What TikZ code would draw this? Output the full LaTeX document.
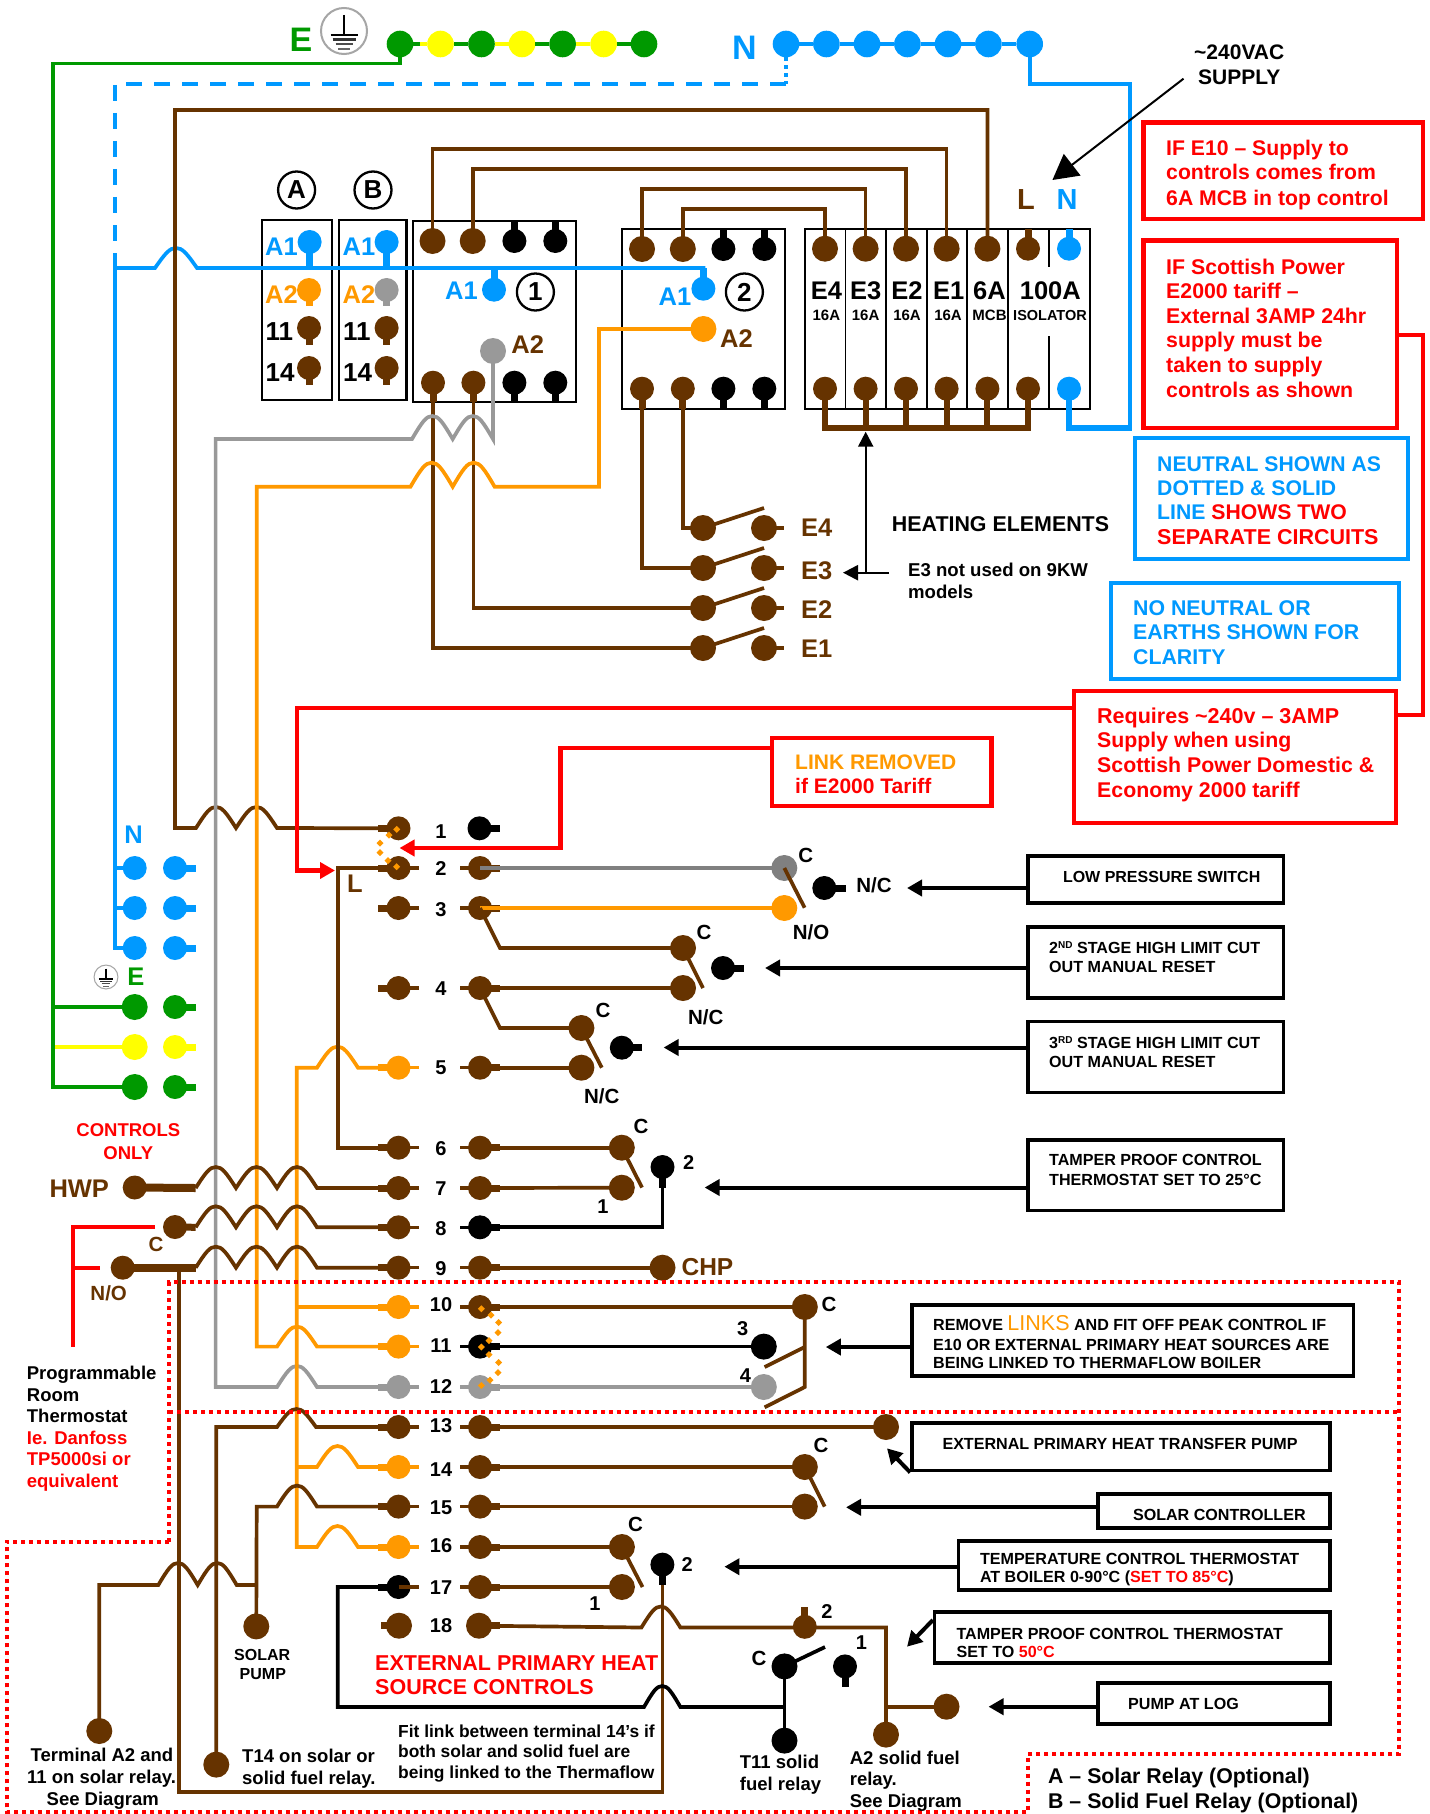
\documentclass[tikz,border=0pt]{standalone}
\usepackage{fontspec}
\setmainfont{Liberation Sans}
\usetikzlibrary{arrows.meta,calc}
\definecolor{brn}{HTML}{663300}
\definecolor{blu}{HTML}{0099FF}
\definecolor{org}{HTML}{FF9900}
\definecolor{grn}{HTML}{009900}
\definecolor{ylw}{HTML}{FFFF00}
\definecolor{gry}{HTML}{999999}
\definecolor{gr2}{HTML}{808080}
\definecolor{rd}{HTML}{FF0000}
\definecolor{blk}{HTML}{000000}
\tikzset{
 wire/.style={line width=3.7pt,draw=#1,line join=miter},
 tdot/.style={circle,inner sep=0pt,outer sep=0pt,draw=none},
 bxn/.style={rectangle,inner sep=0pt,fill=none},
 arr/.style={draw=black,line width=4pt,-{Triangle[length=15pt,width=16pt]}},
 thinarr/.style={draw=black,line width=2.2pt,-{Triangle[length=15pt,width=15pt]}},
 redarr/.style={draw=rd,line width=4.5pt,line join=miter,-{Triangle[length=15pt,width=16pt]}},
 rdots/.style={draw=rd,line width=4pt,dash pattern=on 4pt off 4pt},
 cir/.style={circle,draw=black,line width=2.3pt,minimum size=37pt,inner sep=0pt},
 hmp/.style={to path={let \p1=(\tikztostart),\p2=(\tikztotarget),\n1={\x2-\x1} in
   .. controls ({\x1+.25*\n1},{\y1+.75*#1pt}) and ({\x1+.35*\n1},{\y1+#1pt}) .. ({\x1+.5*\n1},{\y1+#1pt})
   .. controls ({\x1+.65*\n1},{\y1+#1pt}) and ({\x1+.75*\n1},{\y1+.75*#1pt}) .. (\tikztotarget)}}
}
\newcounter{lb}
\newcommand\lab[5]{\stepcounter{lb}\node[anchor=base west,inner sep=0pt,text=#2] (lb\thelb) at (#3,#4) {\fontsize{#1}{#1}\selectfont\bfseries #5};}
\newcommand\labc[5]{\stepcounter{lb}\node[anchor=base,inner sep=0pt,text=#2] (lb\thelb) at (#3,{#4+.36*#1}) {\fontsize{#1}{#1}\selectfont\bfseries #5};}
\newcommand\dt[5]{\node[tdot,fill=#5,minimum size=\fpeval{2*#4}pt] (#1) at (#2,#3) {};}
\newcommand\stb[5]{\draw[line width=#5pt,draw=#4] (#1.center) -- ++(#2,#3);}
\newcommand\bx[7]{\node[bxn,draw=#6,line width=#7pt,minimum width=\fpeval{#4-#2}pt,minimum height=\fpeval{#5-#3}pt] (#1) at ({(#2+#4)/2},{(#3+#5)/2}) {};}
% row of terminals: number, y, left colour, right colour, y of the number
\newcommand\rw[5]{%
 \dt{L#1}{398.5}{#2}{12}{#3}\stb{L#1}{-20.5}{0}{#3}{7}\stb{L#1}{20.2}{0}{#3}{3.5}%
 \dt{R#1}{480}{#2}{12}{#4}\stb{R#1}{-20.3}{0}{#4}{3.5}\stb{R#1}{20}{0}{#4}{7}%
 \labc{20}{black}{441}{#5}{#1}}
\newcommand\sml[1]{\raisebox{5pt}{\fontsize{10}{10}\selectfont #1}}
\newcommand\earthsym[4]{%
 \node[circle,draw=gray!70,line width=#4*2pt,fill=white,minimum size=\fpeval{46*#4}pt,inner sep=0pt] (#1) at (#2,#3) {};
 \begin{scope}[shift={(#2,#3)},scale=#4]
  \draw[black,line width=#4*2.6pt] (0,-16) -- (0,4);
  \draw[black,line width=#4*2.6pt] (-13.5,4) -- (13.5,4);
  \draw[black!80,line width=#4*2.6pt] (-11.5,8.5) -- (11.5,8.5);
  \draw[black!70,line width=#4*2.6pt] (-8.5,13) -- (8.5,13);
  \draw[black!60,line width=#4*2.6pt] (-5.7,18) -- (5.7,18);
 \end{scope}}
\begin{document}
\begin{tikzpicture}[x=1pt,y=-1pt]
\useasboundingbox[fill=white] (0,0) rectangle (1429,1814);

% ---------- boxes ----------
\bx{rA}{262}{220}{332}{400}{black}{2.2}
\bx{rB}{339}{220}{406.5}{400}{black}{2.2}
\bx{k1}{413}{221}{575.6}{402}{black}{2.2}
\bx{k2}{622}{229}{784.6}{409}{black}{2.2}
\bx{fb}{804.7}{229}{1089.6}{409}{black}{2.2}
\draw[line width=1.3pt] (845.5,229) -- (845.5,409) (886,229) -- (886,409) (927,229) -- (927,409) (967,229) -- (967,409) (1008,229) -- (1008,409)
  (1049,229) -- (1049,267) (1049,336) -- (1049,409);
\bx{bE10}{1143.7}{122.7}{1423}{219}{rd}{4.5}
\bx{bSP}{1143.7}{240.7}{1397}{428}{rd}{4.5}
\bx{bNS}{1135}{438}{1408}{559}{blu}{4.5}
\bx{bNO}{1111}{583}{1399}{679}{blu}{4.5}
\bx{bRQ}{1074}{691}{1396}{823}{rd}{4.5}
\bx{bLK}{772}{738}{991.7}{806}{rd}{4.5}
\bx{bLP}{1027.8}{856}{1283.7}{903}{black}{3.5}
\bx{b2S}{1027.8}{927}{1283.7}{998}{black}{3.5}
\bx{b3S}{1027.8}{1021.7}{1283.7}{1092.7}{black}{3.5}
\bx{bTP}{1027.8}{1140}{1283.7}{1210.7}{black}{3.5}
\bx{bRM}{912}{1305}{1353.4}{1376}{black}{3.5}
\bx{bEP}{912}{1423}{1330}{1470.7}{black}{3.5}
\bx{bSC}{1097.8}{1494}{1330}{1528}{black}{3.5}
\bx{bTC}{958.4}{1541}{1330}{1590}{black}{3.5}
\bx{bT5}{934.6}{1612}{1330}{1663}{black}{3.5}
\bx{bPL}{1097.8}{1683}{1330}{1724}{black}{3.5}

% ---------- supply bars ----------
\dt{E1}{400}{44}{13.3}{grn}\dt{E2}{440.5}{44}{13.3}{ylw}\dt{E3}{481.5}{44}{13.3}{grn}\dt{E4}{522}{44}{13.3}{ylw}\dt{E5}{562.6}{44}{13.3}{grn}\dt{E6}{603.6}{44}{13.3}{ylw}\dt{E7}{644}{44}{13.3}{grn}
\dt{N1}{786}{44}{13.3}{blu}\dt{N2}{826.4}{44}{13.3}{blu}\dt{N3}{867}{44}{13.3}{blu}\dt{N4}{907.4}{44}{13.3}{blu}\dt{N5}{948}{44}{13.3}{blu}\dt{N6}{988.4}{44}{13.3}{blu}\dt{N7}{1029.7}{44}{13.3}{blu}
\earthsym{eBig}{344}{31}{1}
\earthsym{eSmall}{106}{977}{.52}

% ---------- relay A, B ----------
\dt{A1a}{309.6}{242}{12}{blu}\stb{A1a}{0}{26}{blu}{7}
\dt{A2a}{309}{290}{12}{org}\stb{A2a}{0}{16}{org}{7}
\dt{A11}{309}{328}{12}{brn}\stb{A11}{0}{17}{brn}{7}
\dt{A14}{309}{368}{12}{brn}\stb{A14}{0}{17}{brn}{7}
\dt{B1a}{386.6}{242}{12}{blu}\stb{B1a}{0}{26}{blu}{7}
\dt{B2a}{386.6}{290}{12}{gry}\stb{B2a}{0}{16}{gry}{7}
\dt{B11}{386.6}{328}{12}{brn}\stb{B11}{0}{17}{brn}{7}
\dt{B14}{386.6}{368}{12}{brn}\stb{B14}{0}{17}{brn}{7}
% ---------- contactor 1 ----------
\dt{k1t1}{432.5}{241}{13}{brn}\dt{k1t2}{472.7}{241}{13}{brn}
\dt{k1t3}{514.4}{241}{12}{black}\stb{k1t3}{0}{-20}{black}{7}
\dt{k1t4}{555.3}{241}{12}{black}\stb{k1t4}{0}{-20}{black}{7}
\dt{k1b1}{433}{382.7}{12}{brn}\stb{k1b1}{0}{19}{brn}{7}
\dt{k1b2}{473.4}{382.7}{12}{brn}\stb{k1b2}{0}{19}{brn}{7}
\dt{k1b3}{514.4}{382.7}{12}{black}\stb{k1b3}{0}{19}{black}{7}
\dt{k1b4}{555.3}{382.7}{12}{black}\stb{k1b4}{0}{19}{black}{7}
\dt{k1a1}{494}{289.7}{12}{blu}\stb{k1a1}{0}{-21.7}{blu}{7}
\dt{k1a2}{493}{351}{13}{gry}
% ---------- contactor 2 ----------
\dt{k2t1}{642}{249}{13}{brn}\dt{k2t2}{682.8}{249}{13}{brn}
\dt{k2t3}{723.4}{249}{12}{black}\stb{k2t3}{0}{-20}{black}{7}
\dt{k2t4}{764.3}{249}{12}{black}\stb{k2t4}{0}{-20}{black}{7}
\dt{k2b1}{642}{388.7}{12}{brn}\stb{k2b1}{0}{20}{brn}{7}
\dt{k2b2}{682.8}{388.7}{12}{brn}\stb{k2b2}{0}{20}{brn}{7}
\dt{k2b3}{723.4}{388.7}{12}{black}\stb{k2b3}{0}{20}{black}{7}
\dt{k2b4}{764.3}{388.7}{12}{black}\stb{k2b4}{0}{20}{black}{7}
\dt{k2a1}{703.4}{288.7}{12}{blu}\stb{k2a1}{0}{-20.7}{blu}{7}
\dt{k2a2}{703.4}{329}{13}{org}
% ---------- fuse board ----------
\dt{F1t}{825}{248.7}{13}{brn}\dt{F2t}{865.6}{248.7}{13}{brn}\dt{F3t}{906}{248.7}{13}{brn}\dt{F4t}{946.6}{248.7}{13}{brn}\dt{F5t}{987.4}{248.7}{13}{brn}
\dt{F6t}{1028}{248.7}{12}{brn}\stb{F6t}{0}{-19.7}{brn}{7}
\dt{F7t}{1069}{248.7}{12}{blu}\stb{F7t}{0}{-19.7}{blu}{7}
\foreach \n/\x in {F1b/825,F2b/865.6,F3b/906,F4b/946.6,F5b/987.4,F6b/1028}{
  \dt{\n}{\x}{388.7}{12}{brn}\stb{\n}{0}{39.3}{brn}{6}}
\dt{F7b}{1069}{388.7}{12}{blu}
\draw[line width=6pt,draw=brn,line cap=rect] (F1b.center |- 0,428) -- (F6b.center |- 0,428);

% ---------- element switches ----------
\foreach \n/\y in {4/528,3/568,2/608,1/648}{
 \dt{sL\n}{703}{\y}{13}{brn}\dt{sR\n}{764}{\y}{13}{brn}\stb{sR\n}{20}{0}{brn}{4}
 \draw[wire=brn] (sL\n.center) -- (764,{\y-20});
}
% ---------- N and E blocks ----------
\foreach \n/\y in {1/868,2/908,3/948}{
 \dt{nL\n}{134.7}{\y}{12}{blu}\dt{nR\n}{175}{\y}{12}{blu}\stb{nR\n}{20.7}{0}{blu}{7}}
\dt{g1}{134.7}{1007}{13}{grn}\dt{g1r}{175}{1007}{12}{grn}\stb{g1r}{20.7}{0}{grn}{7}
\dt{y1}{134.7}{1047}{13}{ylw}\dt{y1r}{175}{1047}{12}{ylw}\stb{y1r}{20.7}{0}{ylw}{7}
\dt{g2}{134.7}{1087}{13}{grn}\dt{g2r}{175}{1087}{12}{grn}\stb{g2r}{20.7}{0}{grn}{7}
\dt{HWP}{134.7}{1187.5}{12}{brn}
\dt{Ct}{175}{1227}{12}{brn}
\dt{NO}{122.7}{1267.7}{12}{brn}

% ---------- terminal strip ----------
\dt{L1}{398.5}{828.3}{12}{brn}\stb{L1}{-20.5}{0}{brn}{7}
\dt{R1}{479.5}{828.3}{12}{black}\stb{R1}{20.5}{0}{black}{7}
\labc{20}{black}{441}{831}{1}
\rw{2}{868}{brn}{brn}{868}
\rw{3}{908}{brn}{brn}{909}
\rw{4}{988}{brn}{brn}{988}
\rw{5}{1067.7}{org}{brn}{1067.7}
\rw{6}{1147.7}{brn}{brn}{1148}
\rw{7}{1188}{brn}{brn}{1188}
\rw{8}{1227.3}{brn}{black}{1228}
\rw{9}{1267.7}{brn}{brn}{1268}
\rw{10}{1307}{org}{brn}{1304}
\rw{11}{1346.6}{org}{black}{1345}
\rw{12}{1387}{gry}{gry}{1386.5}
\rw{13}{1427}{brn}{brn}{1425}
\rw{14}{1467}{org}{brn}{1469.5}
\rw{15}{1506.6}{brn}{brn}{1507}
\rw{16}{1547}{org}{brn}{1545.5}
\dt{L17}{398.5}{1587}{12}{black}\stb{L17}{-20.5}{0}{black}{7}
\dt{R17}{480}{1587}{12}{brn}\stb{R17}{-20.3}{0}{brn}{3.5}\stb{R17}{20}{0}{brn}{7}
\labc{20}{black}{441}{1587.6}{17}
\dt{L18}{399}{1625.7}{13}{brn}\stb{L18}{-18}{0}{brn}{7}
\dt{R18}{479}{1625.7}{13}{brn}\stb{R18}{21}{0}{brn}{7}
\labc{20}{black}{441}{1625.7}{18}

% ---------- switch contacts ----------
\dt{c2C}{784.3}{868}{13}{gr2}\dt{c2O}{784.3}{908}{13}{org}
\dt{c2B}{824.3}{888}{12}{black}\stb{c2B}{21.4}{0}{black}{7}
\dt{c3C}{683}{948}{13}{brn}\dt{c3N}{683}{988}{13}{brn}
\dt{c3B}{723}{968}{12}{black}\stb{c3B}{21}{0}{black}{7}
\dt{c4C}{581.4}{1028}{13}{brn}\dt{c4N}{581.4}{1067.7}{13}{brn}
\dt{c4B}{621.8}{1047.7}{12}{black}\stb{c4B}{20.2}{0}{black}{7}
\dt{c6C}{621.8}{1147.7}{13}{brn}\dt{c6N}{621.8}{1187.7}{13}{brn}
\dt{c6B}{662.5}{1167}{12}{black}\stb{c6B}{0}{21}{black}{7}
\dt{CHP}{662.5}{1267.7}{13}{brn}
\dt{c10}{804.8}{1307}{13}{brn}\dt{c11}{763.8}{1346.6}{13}{black}\dt{c12}{763.8}{1387}{13}{gry}
\dt{c13}{886}{1427}{13}{brn}
\dt{c14}{804.8}{1467}{13}{brn}\dt{c15}{804.8}{1506.6}{13}{brn}
\dt{c16}{621.9}{1547}{13}{brn}\dt{c17}{621.9}{1587}{13}{brn}
\dt{c17B}{662.4}{1564.6}{12}{black}\stb{c17B}{0}{20}{black}{7}
\dt{s2}{804.8}{1626.8}{12}{brn}\stb{s2}{0}{-20}{brn}{7}
\dt{s1}{845}{1666.4}{12}{black}\stb{s1}{0}{21}{black}{7}
\dt{sC}{784.5}{1666.4}{13}{black}
\dt{T11}{784.5}{1740.6}{13}{black}
\dt{A2s}{886}{1734.6}{13}{brn}
\dt{PLg}{946.5}{1706.7}{13}{brn}
\dt{tA2}{99.3}{1731}{13}{brn}
\dt{tT14}{216.3}{1764.6}{13}{brn}
\dt{sPump}{256.3}{1626.4}{13}{brn}

% ---------- wires: supply ----------
\draw[wire=ylw] (E1) -- (E2);
\draw[wire=grn] (E1) -- (420,44);
\draw[wire=grn] (E2) -- (E3);
\draw[wire=ylw] (E3) -- (E4);
\draw[wire=grn] (E4) -- (E5);
\draw[wire=ylw] (E5) -- (E6);
\draw[wire=grn] (E6) -- (E7);
\draw[wire=blu] (N1) -- (N2);\draw[wire=blu] (N2) -- (N3);\draw[wire=blu] (N3) -- (N4);\draw[wire=blu] (N4) -- (N5);\draw[wire=blu] (N5) -- (N6);\draw[wire=blu] (N6) -- (N7);
\draw[wire=grn] (E1.center) -- (400,63.5) -- (53,63.5) -- (53,1087) -- (g2.center);
\draw[wire=grn] (53,1007) -- (g1.center);
\draw[wire=ylw] (55,1047) -- (y1.center);
\draw[wire=blu,dash pattern=on 4pt off 4pt] (N1.south) -- (786,84);
\draw[wire=blu,dash pattern=on 16pt off 12pt] (786,84) -- (115,84) -- (115,268);
\draw[wire=blu] (nL3.center) -- (115,948) -- (115,268) -- (155,268) to[hmp=20] (197,268) -- (703.4,268) -- (k2a1.center);
\draw[wire=blu] (115,868) -- (nL1.center);
\draw[wire=blu] (115,908) -- (nL2.center);
\draw[wire=blu] (N7.center) -- (1029.7,84) -- (1130,84) -- (1130,428);
\draw[line width=6pt,draw=blu,line join=miter] (F7b.center) -- (1069,428) -- (1131.5,428);
% ---------- wires: contactors and fuses ----------
\draw[wire=brn] (F5t.center) -- (987.4,110) -- (175,110) -- (175,828) -- (196,828) to[hmp=21] (236,828) to[hmp=21] (277,828) -- (L1.center);
\draw[wire=brn] (k1t1.center) -- (432.5,149) -- (946.6,149) -- (F4t.center);
\draw[wire=brn] (k1t2.center) -- (472.7,169) -- (906,169) -- (F3t.center);
\draw[wire=brn] (k2t1.center) -- (642,189) -- (865.6,189) -- (F2t.center);
\draw[wire=brn] (k2t2.center) -- (682.8,209) -- (825,209) -- (F1t.center);
\draw[wire=brn] (k2b2.center) -- (682.8,528) -- (sL4.center);
\draw[wire=brn] (k2b1.center) -- (642,568) -- (sL3.center);
\draw[wire=brn] (k1b2.center) -- (473.4,608) -- (sL2.center);
\draw[wire=brn] (k1b1.center) -- (433,648) -- (sL1.center);
\draw[wire=gry] (k1a2.center) -- (493,439) to[hmp=23] (452.7,439) to[hmp=23] (412,439) -- (215.6,439) -- (215.6,1387) -- (277,1387) to[hmp=21] (317,1387) -- (L12.center);
\draw[wire=org] (k2a2.center) -- (599,329) -- (599,486.7) -- (494.6,486.7) to[hmp=24] (452.7,486.7) to[hmp=24] (410.5,486.7) -- (256.7,486.7) -- (256.7,1346.6) -- (277,1346.6) to[hmp=20] (317,1346.6) -- (L11.center);
\draw[wire=org] (L5.center) -- (358,1067.7) to[hmp=21] (317,1067.7) -- (296.7,1067.7) -- (296.7,1547) -- (317,1547) to[hmp=21] (358,1547) -- (L16.center);
\draw[wire=org] (296.7,1307) -- (L10.center);
\draw[wire=org] (296.7,1467) -- (317,1467) to[hmp=21] (358,1467) -- (L14.center);
% ---------- wires: left side of strip ----------
\draw[wire=brn] (L2.center) -- (337.7,868) -- (337.7,1147.7) -- (L6.center);
\draw[line width=8pt,draw=brn] (HWP.center) -- (195.7,1188);
\draw[wire=brn] (195.7,1188) to[hmp=21] (236,1188) to[hmp=21] (277,1188) to[hmp=21] (317,1188) -- (L7.center);
\draw[line width=7pt,draw=brn] (Ct.center) -- (195.7,1227.3);
\draw[wire=brn] (195.7,1227.3) to[hmp=21] (236,1227.3) to[hmp=21] (277,1227.3) to[hmp=21] (317,1227.3) -- (L8.center);
\draw[line width=8pt,draw=brn] (NO.center) -- (195.7,1267.7);
\draw[wire=brn] (195.7,1267.7) to[hmp=21] (236,1267.7) to[hmp=21] (277,1267.7) to[hmp=21] (317,1267.7) -- (L9.center);
\draw[wire=brn] (178.7,1267.7) -- (178.7,1792) -- (662.4,1792) -- ($(c17B.center)+(0,20)$);
\draw[wire=brn] (tT14.center) -- (216.3,1427) -- (277,1427) to[hmp=18] (316,1427) -- (L13.center);
\draw[wire=brn] (sPump.center) -- (256.7,1506.6) -- (277,1506.6) to[hmp=21] (317,1506.6) -- (L15.center);
\draw[wire=brn] (tA2.center) -- (99.3,1585) -- (158.3,1585) to[hmp=22] (197.7,1585) to[hmp=22] (236.7,1585) -- (256.7,1585);
\draw[wire=black] (L17.center) -- (337.7,1587) -- (337.7,1707) -- (644,1707) to[hmp=21] (680.4,1707) -- (784.5,1707);
\stb{L17}{20.2}{0}{brn}{3.5}
% ---------- wires: right side of strip ----------
\draw[wire=gr2] (R2.center) -- (c2C.center);
\draw[wire=org] (R3.center) -- (c2O.center);
\draw[wire=brn] (c2C.center) -- (804.6,907.7);
\draw[wire=brn] (R3.center) -- (500,948) -- (c3C.center);
\draw[wire=brn] (R4.center) -- (c3N.center);
\draw[wire=brn] (c3C.center) -- (703,988);
\draw[wire=brn] (R4.center) -- (500,1028) -- (c4C.center);
\draw[wire=brn] (R5.center) -- (c4N.center);
\draw[wire=brn] (c4C.center) -- (601.8,1067.7);
\draw[wire=brn] (R6.center) -- (c6C.center);
\draw[wire=brn] (R7.center) -- (c6N.center);
\draw[wire=brn] (c6C.center) -- (642,1187.5);
\draw[wire=black] (c6B.center) -- (662.5,1227.3) -- (R8.center);
\draw[wire=brn] (R9.center) -- (CHP.center);
\draw[wire=brn] (R10.center) -- (c10.center);
\draw[wire=black] (R11.center) -- (c11.center);
\draw[wire=gry] (R12.center) -- (c12.center);
\draw[wire=brn] (c10.center) -- (804.8,1387) -- (764.6,1407.3);
\draw[wire=brn] (804.8,1347) -- (764.6,1367);
\draw[wire=brn] (R13.center) -- (c13.center);
\draw[wire=brn] (R14.center) -- (c14.center);
\draw[wire=brn] (R15.center) -- (c15.center);
\draw[wire=brn] (c14.center) -- (824.7,1506.6);
\draw[wire=brn] (R16.center) -- (c16.center);
\draw[wire=brn] (R17.center) -- (c17.center);
\draw[wire=brn] (c16.center) -- (642.5,1587);
\draw[wire=brn] (R18.center) -- (641.4,1627.5) to[hmp=21] (680.4,1627.5) -- (886,1627.5) -- (A2s.center);
\draw[wire=brn] (886,1706.7) -- (PLg.center);
\draw[wire=black] (sC.center) -- (825,1647);
\draw[wire=black] (sC.center) -- (T11.center);
% ---------- orange links ----------
\foreach \x/\y in {396.7/829.3,389/835,380/843,380/852.7,388/860.7,396.7/866.7,
  481.4/1308.8,491/1315,498.6/1322.5,498/1332.5,489/1340.5,481.4/1347,489/1354.7,498.6/1362.5,498/1372.5,490/1380,481.4/1385.4}
 \fill[org] ({\x-3.5},\y) -- (\x,{\y-3.5}) -- ({\x+3.5},\y) -- (\x,{\y+3.5}) -- cycle;
% ---------- red leaders ----------
\draw[wire=rd,line width=4pt,line join=miter] (bSP.east |- 0,335) -- (1423,335) -- (1423,715) -- (bRQ.east |- 0,715);
\draw[redarr] (bRQ.west |- 0,708) -- (297,708) -- (297,870.5) -- (335,870.5);
\draw[redarr] (bLK.west |- 0,748) -- (560.7,748) -- (560.7,848) -- (399.5,848);
\draw[wire=rd,line width=4pt] (155,1227.3) -- (73,1227.3) -- (73,1347);
\draw[wire=rd,line width=4pt] (73,1267.7) -- (100,1267.7);
% ---------- red dotted zones ----------
\draw[rdots] (169.3,1541.6) -- (169.3,1282) -- (1399,1282) -- (1399,1754) -- (1028,1754) -- (1028,1812) -- (7,1812) -- (7,1541.6) -- cycle;
\draw[rdots] (169.3,1412) -- (1399,1412);
% ---------- black leaders ----------
\draw[draw=black,line width=2pt,-{Triangle[length=25pt,width=27pt]}] (1183.5,78.7) -- (1052.4,180);
\draw[thinarr] (865.7,572.7) -- (865.7,431.7);
\draw[thinarr] (889,572.7) -- (843,572.7);
\draw[arr] (bLP.west |- 0,888) -- (907,888);
\draw[arr] (b2S.west |- 0,968) -- (765,968);
\draw[arr] (b3S.west |- 0,1047.5) -- (663.6,1047.5);
\draw[arr] (bTP.west |- 0,1187.5) -- (704.6,1187.5);
\draw[arr] (bRM.west |- 0,1347) -- (825.8,1347);
\draw[arr] (bEP.south west) -- (887,1448.3);
\draw[arr] (bSC.west |- 0,1507.3) -- (846,1507.3);
\draw[arr] (bTC.west |- 0,1566.7) -- (724.4,1566.7);
\draw[arr] (bT5.west |- 0,1620) -- (907,1646.7);
\draw[arr] (bPL.west |- 0,1706.7) -- (988.5,1706.7);

% ---------- text: top ----------
\lab{34}{grn}{289.5}{51.7}{E}
\lab{34}{blu}{732}{60}{N}
\lab{21}{black}{1194}{60}{\textasciitilde 240VAC}
\lab{21}{black}{1198}{85}{SUPPLY}
\labc{29}{brn}{1026}{199}{L}
\labc{29}{blu}{1067}{199}{N}
% relay text
\node[cir] (cA) at (296.6,190) {\fontsize{26}{26}\selectfont\bfseries A};
\node[cir] (cB) at (373,190) {\fontsize{26}{26}\selectfont\bfseries B};
\node[cir] (c1) at (535.4,292) {\fontsize{26}{26}\selectfont\bfseries 1};
\node[cir] (c2) at (744.4,292) {\fontsize{26}{26}\selectfont\bfseries 2};
\lab{25.5}{blu}{265}{255.7}{A1}
\lab{25.5}{org}{265}{303}{A2}
\lab{26}{black}{265.5}{340.7}{11}
\lab{26}{black}{265.5}{381.7}{14}
\lab{25.5}{blu}{342.5}{255.7}{A1}
\lab{25.5}{org}{342.5}{303}{A2}
\lab{26}{black}{343}{340.7}{11}
\lab{26}{black}{343}{381.7}{14}
\lab{25.5}{blu}{445}{299.3}{A1}
\lab{25.5}{brn}{511.2}{353}{A2}
\lab{25.5}{blu}{658.5}{305}{A1}
\lab{25.5}{brn}{720}{347}{A2}
% fuse text
\labc{25.5}{black}{826.4}{290}{E4}
\labc{25.5}{black}{865.6}{290}{E3}
\labc{25.5}{black}{907}{290}{E2}
\labc{25.5}{black}{948.7}{290}{E1}
\labc{25.5}{black}{989.4}{290}{6A}
\labc{25.5}{black}{1050.3}{290}{100A}
\labc{15}{black}{826.4}{315.5}{16A}
\labc{15}{black}{865.6}{315.5}{16A}
\labc{15}{black}{907}{315.5}{16A}
\labc{15}{black}{948}{315.5}{16A}
\labc{15}{black}{989.5}{315.5}{MCB}
\labc{14.5}{black}{1050}{315.5}{ISOLATOR}
% red and blue notes
\lab{21.2}{rd}{1166}{156}{IF E10 – Supply to}
\lab{21.2}{rd}{1166}{180}{controls comes from}
\lab{21.2}{rd}{1166}{205}{6A MCB in top control}
\lab{21.3}{rd}{1166}{274}{IF Scottish Power}
\lab{21.3}{rd}{1166}{298}{E2000 tariff –}
\lab{21.3}{rd}{1166}{323}{External 3AMP 24hr}
\lab{21.3}{rd}{1166}{347}{supply must be}
\lab{21.3}{rd}{1166}{372}{taken to supply}
\lab{21.3}{rd}{1166}{397}{controls as shown}
\lab{21.2}{blu}{1157}{471}{NEUTRAL SHOWN AS}
\lab{21.2}{blu}{1157}{495}{DOTTED \& SOLID}
\lab{21.2}{blu}{1157}{519}{LINE \textcolor{rd}{SHOWS TWO}}
\lab{21.5}{rd}{1157}{544}{SEPARATE CIRCUITS}
\lab{21.3}{blu}{1133}{615}{NO NEUTRAL OR}
\lab{21.3}{blu}{1133}{639}{EARTHS SHOWN FOR}
\lab{21.3}{blu}{1133}{664}{CLARITY}
\lab{21.5}{rd}{1097}{723}{Requires \textasciitilde 240v – 3AMP}
\lab{21.3}{rd}{1097}{747}{Supply when using}
\lab{21.3}{rd}{1097}{772}{Scottish Power Domestic \&}
\lab{21.3}{rd}{1097}{797}{Economy 2000 tariff}
\lab{21}{org}{795}{769}{LINK REMOVED}
\lab{21}{rd}{795}{793}{if E2000 Tariff}
% elements
\lab{21.4}{black}{891.7}{531.7}{HEATING ELEMENTS}
\lab{18.6}{black}{908}{576}{E3 not used on 9KW}
\lab{18.6}{black}{908}{598}{models}
\lab{25.5}{brn}{801}{536.7}{E4}
\lab{25.5}{brn}{801}{579}{E3}
\lab{25.5}{brn}{801}{618}{E2}
\lab{25.5}{brn}{801}{657}{E1}
% left blocks
\labc{25.5}{blu}{133.7}{834}{N}
\labc{25.5}{grn}{136}{976.7}{E}
\labc{25.5}{brn}{355}{883}{L}
\labc{18.5}{rd}{128.3}{1130}{CONTROLS}
\labc{18.5}{rd}{128.3}{1152.5}{ONLY}
\lab{25.5}{brn}{49.3}{1197.3}{HWP}
\labc{20.5}{brn}{156}{1244}{C}
\labc{20.5}{brn}{108.7}{1293.6}{N/O}
\lab{18.5}{black}{26.7}{1379.4}{Programmable}
\lab{18.5}{black}{26.7}{1401.3}{Room}
\lab{18.5}{black}{26.7}{1422.5}{Thermostat}
\lab{18.5}{rd}{26.7}{1444.5}{Ie. Danfoss}
\lab{18.5}{rd}{26.7}{1465.7}{TP5000si or}
\lab{18.5}{rd}{26.7}{1487}{equivalent}
% contact labels
\labc{20.5}{black}{805.7}{855}{C}
\labc{20.5}{black}{874}{885}{N/C}
\labc{20.5}{black}{811}{932}{N/O}
\labc{20.5}{black}{704}{932}{C}
\labc{20.5}{black}{705.7}{1016.7}{N/C}
\labc{20.5}{black}{603}{1010}{C}
\labc{20.5}{black}{601.8}{1095.7}{N/C}
\labc{20.5}{black}{641}{1125.7}{C}
\labc{20}{black}{688.6}{1162.7}{2}
\labc{20}{black}{602.9}{1206}{1}
\lab{24.5}{brn}{681.4}{1275}{CHP}
\labc{20.5}{black}{829}{1304}{C}
\labc{20}{black}{742.8}{1328}{3}
\labc{20}{black}{745.5}{1375}{4}
\labc{20.5}{black}{821}{1445.5}{C}
\labc{20.5}{black}{635.6}{1524.3}{C}
\labc{20}{black}{687.3}{1564}{2}
\labc{20}{black}{595}{1602.8}{1}
\labc{20}{black}{827}{1611.6}{2}
\labc{20}{black}{861.4}{1642.7}{1}
\labc{20.5}{black}{759}{1658}{C}
% box text
\lab{16}{black}{1062.8}{882.7}{LOW PRESSURE SWITCH}
\lab{16.1}{black}{1049}{953}{2\sml{ND} STAGE HIGH LIMIT CUT}
\lab{16.1}{black}{1049}{972}{OUT MANUAL RESET}
\lab{16.1}{black}{1049}{1048}{3\sml{RD} STAGE HIGH LIMIT CUT}
\lab{16.1}{black}{1049}{1067}{OUT MANUAL RESET}
\lab{16.1}{black}{1049}{1165.7}{TAMPER PROOF CONTROL}
\lab{16.1}{black}{1049}{1185}{THERMOSTAT SET TO 25°C}
\lab{16.1}{black}{933}{1330}{REMOVE \textcolor{org}{\fontsize{21.5}{21.5}\selectfont\mdseries LINKS} AND FIT OFF PEAK CONTROL IF}
\lab{16.1}{black}{933}{1350}{E10 OR EXTERNAL PRIMARY HEAT SOURCES ARE}
\lab{16.1}{black}{933}{1368}{BEING LINKED TO THERMAFLOW BOILER}
\lab{16.1}{black}{942.3}{1449}{EXTERNAL PRIMARY HEAT TRANSFER PUMP}
\lab{16.1}{black}{1132.8}{1520}{SOLAR CONTROLLER}
\lab{16.1}{black}{979.8}{1564}{TEMPERATURE CONTROL THERMOSTAT}
\lab{16.1}{black}{979.8}{1582}{AT BOILER 0-90°C (\textcolor{rd}{SET TO 85°C})}
\lab{16.1}{black}{956.3}{1639}{TAMPER PROOF CONTROL THERMOSTAT}
\lab{16.1}{black}{956.3}{1657.7}{SET TO \textcolor{rd}{50°C}}
\lab{16.1}{black}{1128}{1709}{PUMP AT LOG}
% lower notes
\lab{21.5}{rd}{375}{1670}{EXTERNAL PRIMARY HEAT}
\lab{21.5}{rd}{375}{1694.6}{SOURCE CONTROLS}
\lab{16}{black}{234}{1660}{SOLAR}
\lab{16}{black}{239.5}{1679.4}{PUMP}
\lab{18.5}{black}{30.5}{1761.8}{Terminal A2 and}
\lab{18.5}{black}{27}{1783}{11 on solar relay.}
\lab{18.5}{black}{46.5}{1805}{See Diagram}
\lab{18.5}{black}{242}{1762.5}{T14 on solar or}
\lab{18.5}{black}{242}{1784}{solid fuel relay.}
\lab{17.4}{black}{398}{1737.7}{Fit link between terminal 14’s if}
\lab{17.4}{black}{398}{1757.9}{both solar and solid fuel are}
\lab{17.4}{black}{398}{1778}{being linked to the Thermaflow}
\lab{18.5}{black}{739.7}{1768}{T11 solid}
\lab{18.5}{black}{739.7}{1790}{fuel relay}
\lab{18.5}{black}{849.6}{1764.6}{A2 solid fuel}
\lab{18.5}{black}{849.6}{1785.8}{relay.}
\lab{18.5}{black}{849.6}{1807.7}{See Diagram}
\lab{21.3}{black}{1048}{1783.3}{A – Solar Relay (Optional)}
\lab{21.3}{black}{1048}{1808}{B – Solid Fuel Relay (Optional)}
\end{tikzpicture}
\end{document}
